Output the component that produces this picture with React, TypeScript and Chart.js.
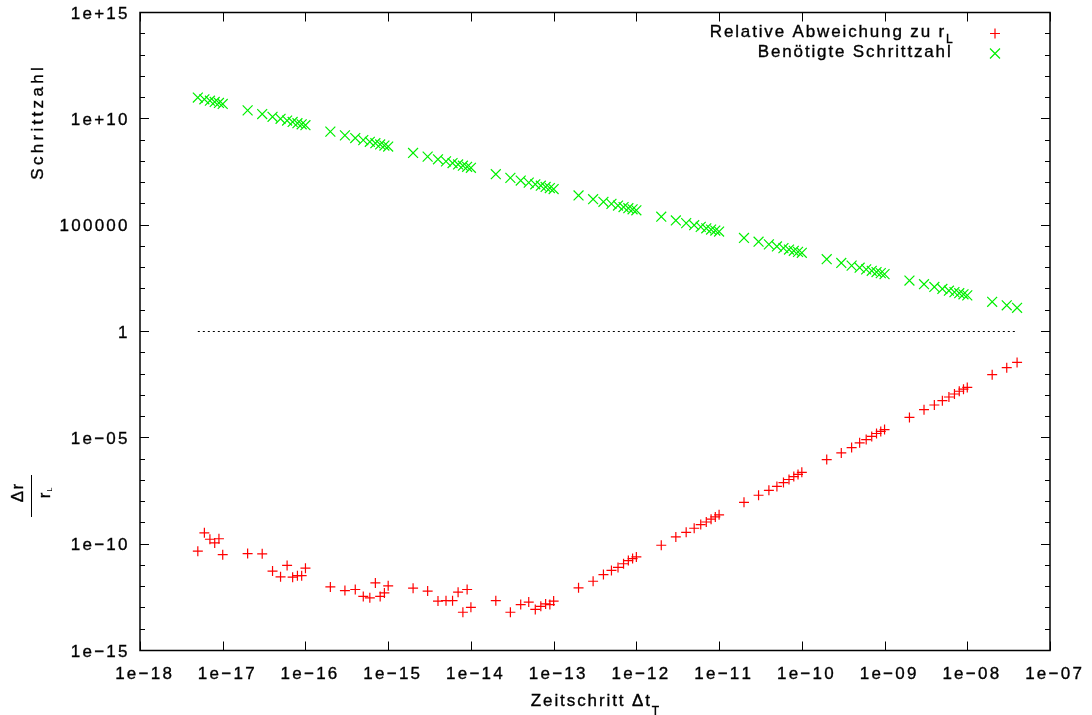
import React, { useEffect, useRef } from "react";
import { Chart, registerables } from "chart.js";

Chart.register(...registerables);

// Time step Δt_T used for each run
const timeSteps = [
  5e-18, 6e-18, 7e-18, 8e-18, 9e-18,
  1e-17, 2e-17, 3e-17, 4e-17, 5e-17, 6e-17, 7e-17, 8e-17, 9e-17,
  1e-16, 2e-16, 3e-16, 4e-16, 5e-16, 6e-16, 7e-16, 8e-16, 9e-16,
  1e-15, 2e-15, 3e-15, 4e-15, 5e-15, 6e-15, 7e-15, 8e-15, 9e-15,
  1e-14, 2e-14, 3e-14, 4e-14, 5e-14, 6e-14, 7e-14, 8e-14, 9e-14,
  1e-13, 2e-13, 3e-13, 4e-13, 5e-13, 6e-13, 7e-13, 8e-13, 9e-13,
  1e-12, 2e-12, 3e-12, 4e-12, 5e-12, 6e-12, 7e-12, 8e-12, 9e-12,
  1e-11, 2e-11, 3e-11, 4e-11, 5e-11, 6e-11, 7e-11, 8e-11, 9e-11,
  1e-10, 2e-10, 3e-10, 4e-10, 5e-10, 6e-10, 7e-10, 8e-10, 9e-10,
  1e-9, 2e-9, 3e-9, 4e-9, 5e-9, 6e-9, 7e-9, 8e-9, 9e-9,
  1e-8, 2e-8, 3e-8, 4e-8,
];

// Relative deviation Δr / r_L
const relDeviation = [
  4.7e-11, 3.4e-10, 1.7e-10, 1.15e-10, 1.8e-10,
  3.2e-11, 3.6e-11, 3.5e-11, 5.4e-12, 2.9e-12, 1.0e-11, 2.8e-12, 3.3e-12, 3.3e-12,
  7.4e-12, 9.8e-13, 6.6e-13, 7.4e-13, 3.5e-13, 3.0e-13, 1.5e-12, 3.5e-13, 5.1e-13,
  1.1e-12, 8.5e-13, 6.2e-13, 2.1e-13, 2.2e-13, 2.2e-13, 5.5e-13, 6.3e-14, 7.4e-13,
  1.07e-13, 2.2e-13, 6.3e-14, 1.45e-13, 1.9e-13, 8.5e-14, 1.2e-13, 1.55e-13, 1.45e-13,
  2.1e-13, 8.9e-13, 1.8e-12, 3.7e-12, 5.8e-12, 8.1e-12, 1.2e-11, 1.7e-11, 2.1e-11,
  2.5e-11, 8.9e-11, 2.2e-10, 3.6e-10, 5.6e-10, 8.3e-10, 1.1e-9, 1.5e-9, 1.9e-9,
  2.4e-9, 9.3e-9, 2.0e-8, 3.4e-8, 5.2e-8, 7.9e-8, 1.1e-7, 1.5e-7, 1.9e-7,
  2.4e-7, 9.5e-7, 1.95e-6, 3.5e-6, 5.8e-6, 8.3e-6, 1.17e-5, 1.6e-5, 2.0e-5,
  2.45e-5, 9.1e-5, 2.1e-4, 3.5e-4, 5.6e-4, 8.3e-4, 1.15e-3, 1.55e-3, 1.95e-3,
  2.35e-3, 9.3e-3, 2.0e-2, 3.5e-2,
];

// Number of integration steps needed
const stepCounts = [
  1e11, 8.33e10, 7.14e10, 6.25e10, 5.56e10,
  5e10, 2.5e10, 1.67e10, 1.25e10, 1e10, 8.33e9, 7.14e9, 6.25e9, 5.56e9,
  5e9, 2.5e9, 1.67e9, 1.25e9, 1e9, 8.33e8, 7.14e8, 6.25e8, 5.56e8,
  5e8, 2.5e8, 1.67e8, 1.25e8, 1e8, 8.33e7, 7.14e7, 6.25e7, 5.56e7,
  5e7, 2.5e7, 1.67e7, 1.25e7, 1e7, 8.33e6, 7.14e6, 6.25e6, 5.56e6,
  5e6, 2.5e6, 1.67e6, 1.25e6, 1e6, 8.33e5, 7.14e5, 6.25e5, 5.56e5,
  5e5, 2.5e5, 1.67e5, 1.25e5, 1e5, 8.33e4, 7.14e4, 6.25e4, 5.56e4,
  5e4, 2.5e4, 1.67e4, 1.25e4, 1e4, 8333, 7143, 6250, 5556,
  5000, 2500, 1667, 1250, 1000, 833, 714, 625, 556,
  500, 250, 167, 125, 100, 83, 71, 63, 56,
  50, 25, 17, 13,
];

const referenceLevel = 1;

const xTickValues = [1e-18, 1e-17, 1e-16, 1e-15, 1e-14, 1e-13, 1e-12, 1e-11, 1e-10, 1e-9, 1e-8, 1e-7];
const xTickLabels = [
  "1e\u221218", "1e\u221217", "1e\u221216", "1e\u221215", "1e\u221214", "1e\u221213",
  "1e\u221212", "1e\u221211", "1e\u221210", "1e\u221209", "1e\u221208", "1e\u221207",
];
const yTickValues = [1e-15, 1e-10, 1e-5, 1, 1e5, 1e10, 1e15];
const yTickLabels = ["1e\u221215", "1e\u221210", "1e\u221205", "1", "100000", "1e+10", "1e+15"];

const seriesNames = ["Relative Abweichung zu r", "Benötigte Schrittzahl"];
const seriesSub = ["L", ""];
const xTitle = "Zeitschritt \u0394t";
const xTitleSub = "T";
const yTitleTop = "Schrittzahl";
const yTitleNum = "\u0394r";
const yTitleDen = "r";
const yTitleDenSub = "L";

const RED = "#ff0000";
const GREEN = "#00f000";
const TEXT = "#000";
const FONT = '"Liberation Sans", Arial, Helvetica, sans-serif';

function spacedWidth(ctx: CanvasRenderingContext2D, text: string, spacing: number) {
  const chars = Array.from(text);
  let w = 0;
  chars.forEach((ch) => { w += ctx.measureText(ch).width; });
  return w + spacing * Math.max(0, chars.length - 1);
}

// draws text glyph by glyph with fixed extra spacing, slightly emboldened
function fillSpaced(ctx: CanvasRenderingContext2D, text: string, x: number, y: number, spacing: number) {
  let cx = x;
  ctx.lineWidth = 0.35;
  ctx.strokeStyle = ctx.fillStyle as string;
  for (const ch of Array.from(text)) {
    ctx.fillText(ch, cx, y);
    ctx.strokeText(ch, cx, y);
    cx += ctx.measureText(ch).width + spacing;
  }
  return cx - spacing;
}

// text with an optional subscript; align refers to the whole group
function drawGroup(
  ctx: CanvasRenderingContext2D,
  main: string,
  sub: string,
  x: number,
  y: number,
  o: { size: number; subSize: number; drop: number; spacing: number; align: "left" | "right" | "center" }
) {
  ctx.font = `${o.size}px ${FONT}`;
  const wMain = spacedWidth(ctx, main, o.spacing);
  ctx.font = `${o.subSize}px ${FONT}`;
  const wSub = sub ? spacedWidth(ctx, sub, o.spacing) + o.spacing : 0;
  const total = wMain + wSub;
  let x0 = x;
  if (o.align === "right") x0 = x - total;
  else if (o.align === "center") x0 = x - total / 2;
  ctx.font = `${o.size}px ${FONT}`;
  const end = fillSpaced(ctx, main, x0, y, o.spacing);
  if (sub) {
    ctx.font = `${o.subSize}px ${FONT}`;
    fillSpaced(ctx, sub, end + o.spacing, y + o.drop, o.spacing);
  }
}

const gnuplotDecor = {
  id: "gnuplotDecor",
  afterDatasetsDraw(chart: any) {
    const { ctx, chartArea: a, scales } = chart;
    const xs = scales.x;
    const ys = scales.y;
    ctx.save();
    ctx.strokeStyle = "#000";
    ctx.fillStyle = TEXT;

    // tick marks, mirrored on all four sides
    ctx.lineWidth = 1;
    ctx.beginPath();
    xTickValues.forEach((v) => {
      const px = Math.round(xs.getPixelForValue(v)) + 0.5;
      ctx.moveTo(px, a.bottom); ctx.lineTo(px, a.bottom - 9);
      ctx.moveTo(px, a.top); ctx.lineTo(px, a.top + 9);
    });
    for (let e = -15; e <= 15; e++) {
      const py = Math.floor(ys.getPixelForValue(Math.pow(10, e))) + 0.5;
      const len = e % 5 === 0 ? 9 : 5;
      ctx.moveTo(a.left, py); ctx.lineTo(a.left + len, py);
      ctx.moveTo(a.right, py); ctx.lineTo(a.right - len, py);
    }
    ctx.stroke();

    // frame
    ctx.lineWidth = 1.5;
    ctx.strokeRect(a.left, a.top, a.right - a.left, a.bottom - a.top);

    // tick labels
    ctx.textBaseline = "alphabetic";
    ctx.textAlign = "left";
    ctx.font = `17px ${FONT}`;
    yTickValues.forEach((v, i) => {
      const py = ys.getPixelForValue(v);
      const w = spacedWidth(ctx, yTickLabels[i], 2.25);
      fillSpaced(ctx, yTickLabels[i], 127.5 - w, py + 6.3, 2.25);
    });
    xTickValues.forEach((v, i) => {
      const px = xs.getPixelForValue(v);
      const w = spacedWidth(ctx, xTickLabels[i], 2.25);
      fillSpaced(ctx, xTickLabels[i], px + 3.5 - w / 2, 679, 2.25);
    });

    // x axis title
    drawGroup(ctx, xTitle, xTitleSub, (a.left + a.right) / 2, 706, {
      size: 17, subSize: 12, drop: 8.5, spacing: 1.9, align: "center",
    });

    // y axis title, upper part
    ctx.save();
    ctx.translate(43, 123.5);
    ctx.rotate(-Math.PI / 2);
    ctx.font = `17px ${FONT}`;
    const wt = spacedWidth(ctx, yTitleTop, 3.3);
    fillSpaced(ctx, yTitleTop, -wt / 2, 0, 3.3);
    ctx.restore();

    // y axis title, lower part: fraction Δr / r_L
    ctx.save();
    ctx.translate(31.5, 496);
    ctx.rotate(-Math.PI / 2);
    ctx.lineWidth = 1;
    ctx.strokeStyle = "#000";
    ctx.beginPath();
    ctx.moveTo(-21, 0); ctx.lineTo(21, 0);
    ctx.stroke();
    ctx.font = `17px ${FONT}`;
    const wn = spacedWidth(ctx, yTitleNum, 1.5);
    fillSpaced(ctx, yTitleNum, 3 - wn / 2, -8.5, 1.5);
    const wd = spacedWidth(ctx, yTitleDen, 1.5);
    ctx.font = `7px ${FONT}`;
    const ws = spacedWidth(ctx, yTitleDenSub, 0);
    ctx.font = `17px ${FONT}`;
    const dx = 3 - (wd + 1 + ws) / 2;
    fillSpaced(ctx, yTitleDen, dx, 18, 1.5);
    ctx.font = `7px ${FONT}`;
    ctx.fillText(yTitleDenSub, dx + wd + 1, 20);
    ctx.restore();

    // key
    drawGroup(ctx, seriesNames[0], seriesSub[0], 952.7, 37.3, {
      size: 17, subSize: 12, drop: 5.4, spacing: 1.85, align: "right",
    });
    drawGroup(ctx, seriesNames[1], seriesSub[1], 950.7, 57.3, {
      size: 17, subSize: 12, drop: 5.4, spacing: 1.85, align: "right",
    });
    ctx.lineWidth = 1.2;
    ctx.strokeStyle = RED;
    ctx.beginPath();
    ctx.moveTo(990, 33.5); ctx.lineTo(1000, 33.5);
    ctx.moveTo(995, 28.5); ctx.lineTo(995, 38.5);
    ctx.stroke();
    ctx.strokeStyle = GREEN;
    ctx.beginPath();
    ctx.moveTo(990, 48.5); ctx.lineTo(1000, 58.5);
    ctx.moveTo(990, 58.5); ctx.lineTo(1000, 48.5);
    ctx.stroke();

    ctx.restore();
  },
};

export default function App() {
  const canvasRef = useRef<HTMLCanvasElement>(null);

  useEffect(() => {
    const canvas = canvasRef.current;
    if (!canvas) return;
    const chart = new Chart(canvas, {
      type: "scatter",
      data: {
        datasets: [
          {
            label: seriesNames[0] + seriesSub[0],
            data: timeSteps.map((t, i) => ({ x: t, y: relDeviation[i] })),
            pointStyle: "cross",
            pointRadius: 5,
            borderColor: RED,
            backgroundColor: RED,
            borderWidth: 1.2,
          },
          {
            label: seriesNames[1],
            data: timeSteps.map((t, i) => ({ x: t, y: stepCounts[i] })),
            pointStyle: "crossRot",
            pointRadius: 7,
            borderColor: GREEN,
            backgroundColor: GREEN,
            borderWidth: 1.2,
          },
          {
            type: "line",
            label: "",
            data: [
              { x: timeSteps[0], y: referenceLevel },
              { x: timeSteps[timeSteps.length - 1], y: referenceLevel },
            ],
            showLine: true,
            borderColor: "#000",
            borderWidth: 1,
            borderDash: [2, 3],
            pointRadius: 0,
          } as any,
        ],
      },
      options: {
        animation: false,
        responsive: false,
        events: [],
        layout: { padding: { left: 140, top: 12.5, right: 42, bottom: 64.5 } },
        plugins: { legend: { display: false }, tooltip: { enabled: false } },
        scales: {
          x: { type: "logarithmic", min: 1e-18, max: 1e-7, display: false },
          y: { type: "logarithmic", min: 1e-15, max: 1e15, display: false },
        },
      },
      plugins: [gnuplotDecor],
    });
    return () => chart.destroy();
  }, []);

  return (
    <div style={{ position: "absolute", left: 0, top: 0, width: 1092, height: 715, background: "#fff" }}>
      <canvas ref={canvasRef} width={1092} height={715} style={{ display: "block", width: 1092, height: 715 }} />
    </div>
  );
}
